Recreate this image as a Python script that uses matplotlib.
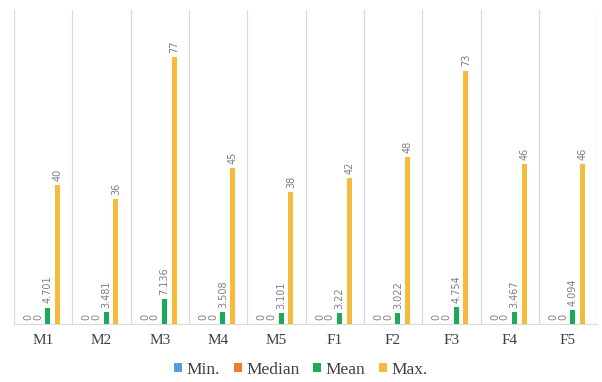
import matplotlib.pyplot as plt
import numpy as np

groups = ['M1', 'M2', 'M3', 'M4', 'M5', 'F1', 'F2', 'F3', 'F4', 'F5']
min_vals = [0, 0, 0, 0, 0, 0, 0, 0, 0, 0]
median_vals = [0, 0, 0, 0, 0, 0, 0, 0, 0, 0]
mean_vals = [4.701, 3.481, 7.136, 3.508, 3.101, 3.22, 3.022, 4.754, 3.467, 4.094]
max_vals = [40, 36, 77, 45, 38, 42, 48, 73, 46, 46]
mean_text = ['4.701', '3.481', '7.136', '3.508', '3.101', '3.22', '3.022', '4.754', '3.467', '4.094']

series = [
    ('Min.', min_vals, '#5B9BD5'),
    ('Median', median_vals, '#ED7D31'),
    ('Mean', mean_vals, '#1BAA5A'),
    ('Max.', max_vals, '#F6BB3C'),
]

fig = plt.figure(figsize=(6.02, 3.82), dpi=100)
ax = fig.add_axes([0.023, 0.152, 0.969, 0.822])

x = np.arange(len(groups))
step = 0.166
width = 0.088

for k, (name, vals, color) in enumerate(series):
    pos = x + (k - 1.5) * step
    ax.bar(pos, vals, width=width, color=color, label=name, zorder=3)
    for i, (p, v) in enumerate(zip(pos, vals)):
        txt = mean_text[i] if name == 'Mean' else f'{v:g}'
        ax.text(p, v + 1.2, txt, rotation=90, ha='center', va='bottom',
                fontsize=7, color='#7F7F7F', family='DejaVu Sans')

# category separators
for b in np.arange(len(groups) + 1) - 0.5:
    ax.axvline(b, color='#D9D9D9', lw=0.9, zorder=1)

ax.set_xlim(-0.5, len(groups) - 0.5)
ax.set_ylim(0, 90.5)
ax.set_yticks([])
ax.set_xticks(x)
ax.set_xticklabels(groups, family='Liberation Serif', fontsize=11, color='#404040')
ax.tick_params(axis='x', length=0, pad=7)
for s in ['top', 'right', 'left']:
    ax.spines[s].set_visible(False)
ax.spines['bottom'].set_color('#D9D9D9')

fig.legend(loc='center', bbox_to_anchor=(0.5, 0.032), ncol=4, frameon=False,
           prop={'family': 'Liberation Serif', 'size': 12.5},
           handlelength=0.45, handleheight=0.45, handletextpad=0.25, columnspacing=0.8,
           labelcolor='#404040')

fig.savefig('out.png', dpi=100)
